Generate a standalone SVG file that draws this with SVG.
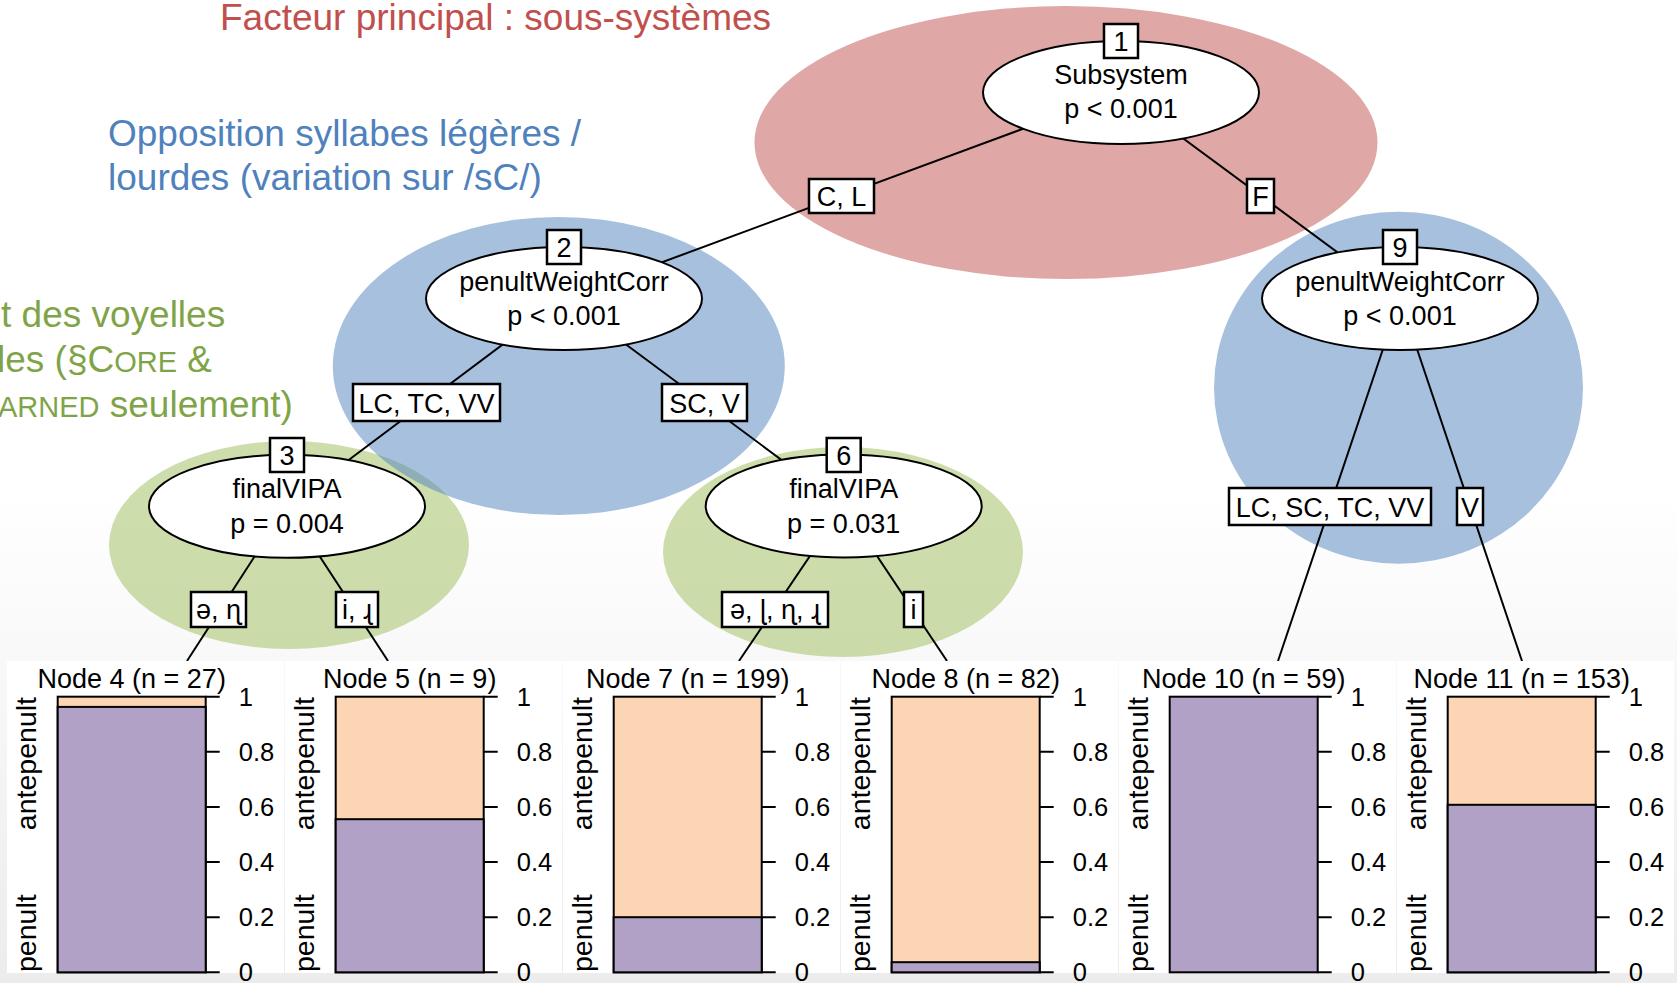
<svg xmlns="http://www.w3.org/2000/svg" width="1677" height="983" viewBox="0 0 1677 983">
<defs>
<linearGradient id="bgGrad" x1="0" y1="0" x2="0" y2="1">
<stop offset="0" stop-color="#ffffff"/>
<stop offset="0.5" stop-color="#ffffff"/>
<stop offset="1" stop-color="#ececec"/>
</linearGradient>
<style>
text{font-family:"Liberation Sans","DejaVu Sans",Arial,sans-serif;fill:#000}
.ann{font-size:37px}
.red{fill:#C0504D}
.blue{fill:#4F81BD}
.green{fill:#7FA448}
.sc{font-size:29px}
.hlR{fill:#C0504D;fill-opacity:0.5}
.hlB{fill:#4F81BD;fill-opacity:0.5}
.hlG{fill:#9BBB59;fill-opacity:0.5}
.node{fill:#fff;stroke:#000;stroke-width:2}
.box{fill:#fff;stroke:#000;stroke-width:2.5}
.nt{font-size:27px;text-anchor:middle}
.edge{stroke:#000;stroke-width:2;fill:none}
.panel{fill:#fff}
.bar{stroke:#000;stroke-width:2}
.pu{fill:#B1A1C7}
.pe{fill:#FCD5B5}
.tick{stroke:#000;stroke-width:2}
.tl{font-size:25.5px}
.ttl{font-size:27px;text-anchor:middle}
.ax{font-size:28.5px}
</style>
</defs>
<rect x="0" y="0" width="1677" height="983" fill="url(#bgGrad)"/>

<g id="annotations">
<text class="ann red" x="220" y="30">Facteur principal : sous-systèmes</text>
<text class="ann blue" x="108" y="146">Opposition syllabes légères /</text>
<text class="ann blue" x="108" y="190">lourdes (variation sur /sC/)</text>
<text class="ann green" x="1" y="327">t des voyelles</text>
<text class="ann green" x="-3" y="372">les (§C<tspan class="sc">ORE</tspan> &amp;</text>
<text class="ann green" x="-2" y="417"><tspan class="sc">ARNED</tspan> seulement)</text>
</g>

<g id="highlights">
<ellipse class="hlR" cx="1066" cy="142.5" rx="311.5" ry="136.5"/>
<ellipse class="hlB" cx="1398.5" cy="387.7" rx="184.5" ry="176"/>
<ellipse class="hlG" cx="289" cy="545" rx="180" ry="104"/>
<ellipse class="hlG" cx="843" cy="552" rx="180" ry="105"/>
<ellipse class="hlB" cx="558.8" cy="366" rx="226" ry="149"/>
</g>

<g id="connectors">
<line class="edge" x1="1121" y1="92.5" x2="564" y2="298.5"/>
<line class="edge" x1="1121" y1="92.5" x2="1400" y2="298.5"/>
<line class="edge" x1="564" y1="298.5" x2="287" y2="506.3"/>
<line class="edge" x1="564" y1="298.5" x2="843.7" y2="506"/>
<line class="edge" x1="287" y1="506.3" x2="187" y2="661"/>
<line class="edge" x1="287" y1="506.3" x2="388" y2="661"/>
<line class="edge" x1="843.7" y1="506" x2="739" y2="661"/>
<line class="edge" x1="843.7" y1="506" x2="947" y2="661"/>
<line class="edge" x1="1400" y1="298.5" x2="1278" y2="661"/>
<line class="edge" x1="1400" y1="298.5" x2="1522" y2="661"/>
<g id="edge-labels">
<rect class="box" x="809" y="179" width="65" height="34"/><text class="nt" x="841.5" y="206">C, L</text>
<rect class="box" x="1247" y="179" width="27" height="34"/><text class="nt" x="1260.5" y="206">F</text>
<rect class="box" x="353" y="384" width="147" height="37"/><text class="nt" x="426.5" y="412.5">LC, TC, VV</text>
<rect class="box" x="662" y="384" width="85" height="37"/><text class="nt" x="704.5" y="412.5">SC, V</text>
<rect class="box" x="191" y="592" width="55" height="35"/><text class="nt" x="218.5" y="619">ə, ɳ</text>
<rect class="box" x="336" y="592" width="42" height="35"/><text class="nt" x="357" y="619">i, ɻ</text>
<rect class="box" x="722" y="592" width="106" height="35"/><text class="nt" x="775" y="619">ə, ɭ, ɳ, ɻ</text>
<rect class="box" x="904" y="592" width="19" height="35"/><text class="nt" x="913.5" y="619">i</text>
<rect class="box" x="1229" y="488" width="202" height="37"/><text class="nt" x="1330" y="516.5">LC, SC, TC, VV</text>
<rect class="box" x="1457" y="488" width="26" height="37"/><text class="nt" x="1470" y="516.5">V</text>
</g>
</g>

<g id="node1">
<ellipse class="node" cx="1121" cy="92.5" rx="138" ry="51.5"/>
<rect class="box" x="1104" y="24" width="34" height="34"/><text class="nt" x="1121" y="51">1</text>
<text class="nt" x="1121" y="84">Subsystem</text>
<text class="nt" x="1121" y="118">p &lt; 0.001</text>
</g>
<g id="node2">
<ellipse class="node" cx="564" cy="298.5" rx="138" ry="51.5"/>
<rect class="box" x="547" y="230" width="34" height="34"/><text class="nt" x="564" y="257">2</text>
<text class="nt" x="564" y="291">penultWeightCorr</text>
<text class="nt" x="564" y="325">p &lt; 0.001</text>
</g>
<g id="node9">
<ellipse class="node" cx="1400" cy="298.5" rx="138" ry="51.5"/>
<rect class="box" x="1383" y="230" width="34" height="34"/><text class="nt" x="1400" y="257">9</text>
<text class="nt" x="1400" y="291">penultWeightCorr</text>
<text class="nt" x="1400" y="325">p &lt; 0.001</text>
</g>
<g id="node3">
<ellipse class="node" cx="287" cy="506.3" rx="138" ry="51.5"/>
<rect class="box" x="270" y="438" width="34" height="34"/><text class="nt" x="287" y="465">3</text>
<text class="nt" x="287" y="498">finalVIPA</text>
<text class="nt" x="287" y="533">p = 0.004</text>
</g>
<g id="node6">
<ellipse class="node" cx="843.7" cy="506" rx="138" ry="51.5"/>
<rect class="box" x="826.7" y="438" width="34" height="34"/><text class="nt" x="843.7" y="465">6</text>
<text class="nt" x="843.7" y="498">finalVIPA</text>
<text class="nt" x="843.7" y="533">p = 0.031</text>
</g>

<g id="node4" transform="translate(57.7,0)">
<rect class="panel" x="-50.7" y="661" width="277" height="312"/>
<text class="ttl" x="74" y="688">Node 4 (n = 27)</text>
<rect class="pe bar" x="0" y="696.7" width="148" height="275.6"/>
<rect class="pu bar" x="0" y="706.9" width="148" height="265.4"/>
<path class="tick" d="M148 696.7h14M148 751.8h14M148 806.9h14M148 862.1h14M148 917.2h14M148 972.3h14"/>
<text class="tl" x="181" y="705.7">1</text><text class="tl" x="181" y="760.8">0.8</text><text class="tl" x="181" y="815.9">0.6</text><text class="tl" x="181" y="871.1">0.4</text><text class="tl" x="181" y="926.2">0.2</text><text class="tl" x="181" y="981.3">0</text>
<text class="ax" transform="translate(-22,697) rotate(-90)" text-anchor="end">antepenult</text>
<text class="ax" transform="translate(-22,972) rotate(-90)">penult</text>
</g>
<g id="node5" transform="translate(335.7,0)">
<rect class="panel" x="-50.7" y="661" width="277" height="312"/>
<text class="ttl" x="74" y="688">Node 5 (n = 9)</text>
<rect class="pe bar" x="0" y="696.7" width="148" height="275.6"/>
<rect class="pu bar" x="0" y="819.2" width="148" height="153.1"/>
<path class="tick" d="M148 696.7h14M148 751.8h14M148 806.9h14M148 862.1h14M148 917.2h14M148 972.3h14"/>
<text class="tl" x="181" y="705.7">1</text><text class="tl" x="181" y="760.8">0.8</text><text class="tl" x="181" y="815.9">0.6</text><text class="tl" x="181" y="871.1">0.4</text><text class="tl" x="181" y="926.2">0.2</text><text class="tl" x="181" y="981.3">0</text>
<text class="ax" transform="translate(-22,697) rotate(-90)" text-anchor="end">antepenult</text>
<text class="ax" transform="translate(-22,972) rotate(-90)">penult</text>
</g>
<g id="node7" transform="translate(613.7,0)">
<rect class="panel" x="-50.7" y="661" width="277" height="312"/>
<text class="ttl" x="74" y="688">Node 7 (n = 199)</text>
<rect class="pe bar" x="0" y="696.7" width="148" height="275.6"/>
<rect class="pu bar" x="0" y="917.2" width="148" height="55.1"/>
<path class="tick" d="M148 696.7h14M148 751.8h14M148 806.9h14M148 862.1h14M148 917.2h14M148 972.3h14"/>
<text class="tl" x="181" y="705.7">1</text><text class="tl" x="181" y="760.8">0.8</text><text class="tl" x="181" y="815.9">0.6</text><text class="tl" x="181" y="871.1">0.4</text><text class="tl" x="181" y="926.2">0.2</text><text class="tl" x="181" y="981.3">0</text>
<text class="ax" transform="translate(-22,697) rotate(-90)" text-anchor="end">antepenult</text>
<text class="ax" transform="translate(-22,972) rotate(-90)">penult</text>
</g>
<g id="node8" transform="translate(891.7,0)">
<rect class="panel" x="-50.7" y="661" width="277" height="312"/>
<text class="ttl" x="74" y="688">Node 8 (n = 82)</text>
<rect class="pe bar" x="0" y="696.7" width="148" height="275.6"/>
<rect class="pu bar" x="0" y="962.2" width="148" height="10.1"/>
<path class="tick" d="M148 696.7h14M148 751.8h14M148 806.9h14M148 862.1h14M148 917.2h14M148 972.3h14"/>
<text class="tl" x="181" y="705.7">1</text><text class="tl" x="181" y="760.8">0.8</text><text class="tl" x="181" y="815.9">0.6</text><text class="tl" x="181" y="871.1">0.4</text><text class="tl" x="181" y="926.2">0.2</text><text class="tl" x="181" y="981.3">0</text>
<text class="ax" transform="translate(-22,697) rotate(-90)" text-anchor="end">antepenult</text>
<text class="ax" transform="translate(-22,972) rotate(-90)">penult</text>
</g>
<g id="node10" transform="translate(1169.7,0)">
<rect class="panel" x="-50.7" y="661" width="277" height="312"/>
<text class="ttl" x="74" y="688">Node 10 (n = 59)</text>
<rect class="pu bar" x="0" y="696.7" width="148" height="275.6"/>
<path class="tick" d="M148 696.7h14M148 751.8h14M148 806.9h14M148 862.1h14M148 917.2h14M148 972.3h14"/>
<text class="tl" x="181" y="705.7">1</text><text class="tl" x="181" y="760.8">0.8</text><text class="tl" x="181" y="815.9">0.6</text><text class="tl" x="181" y="871.1">0.4</text><text class="tl" x="181" y="926.2">0.2</text><text class="tl" x="181" y="981.3">0</text>
<text class="ax" transform="translate(-22,697) rotate(-90)" text-anchor="end">antepenult</text>
<text class="ax" transform="translate(-22,972) rotate(-90)">penult</text>
</g>
<g id="node11" transform="translate(1447.7,0)">
<rect class="panel" x="-50.7" y="661" width="277" height="312"/>
<text class="ttl" x="74" y="688">Node 11 (n = 153)</text>
<rect class="pe bar" x="0" y="696.7" width="148" height="275.6"/>
<rect class="pu bar" x="0" y="804.8" width="148" height="167.5"/>
<path class="tick" d="M148 696.7h14M148 751.8h14M148 806.9h14M148 862.1h14M148 917.2h14M148 972.3h14"/>
<text class="tl" x="181" y="705.7">1</text><text class="tl" x="181" y="760.8">0.8</text><text class="tl" x="181" y="815.9">0.6</text><text class="tl" x="181" y="871.1">0.4</text><text class="tl" x="181" y="926.2">0.2</text><text class="tl" x="181" y="981.3">0</text>
<text class="ax" transform="translate(-22,697) rotate(-90)" text-anchor="end">antepenult</text>
<text class="ax" transform="translate(-22,972) rotate(-90)">penult</text>
</g>
</svg>
